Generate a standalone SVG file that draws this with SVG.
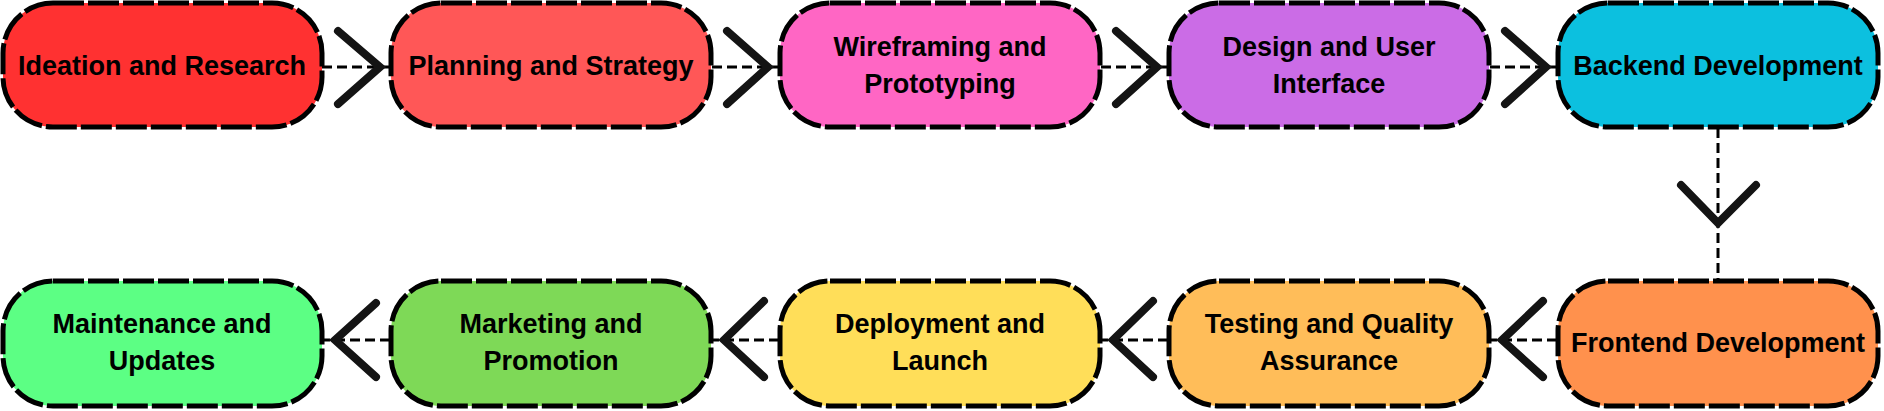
<svg xmlns="http://www.w3.org/2000/svg" width="1884" height="411" viewBox="0 0 1884 411">
<style>
.box{stroke:#000;stroke-width:5;stroke-dasharray:31 4}
.t{font-family:"Liberation Sans",Arial,sans-serif;font-weight:bold;font-size:27px;fill:#000;text-anchor:middle}
.ln{stroke:#000;stroke-width:3;stroke-dasharray:10 5;fill:none}
.ch{stroke:#141414;stroke-width:8;stroke-linecap:round;stroke-linejoin:miter;fill:none}
</style>
<rect width="1884" height="411" fill="#fff"/>
<g id="connectors">
<line class="ln" x1="322" y1="67" x2="390" y2="67"/>
<path class="ch" d="M338,31 L380,67 L338,104"/>
<line class="ln" x1="712" y1="67" x2="779" y2="67"/>
<path class="ch" d="M727,31 L768,67 L727,104"/>
<line class="ln" x1="1101" y1="67" x2="1168" y2="67"/>
<path class="ch" d="M1116,31 L1157,67 L1116,104"/>
<line class="ln" x1="1490" y1="67" x2="1557" y2="67"/>
<path class="ch" d="M1505,31 L1546,67 L1505,104"/>
<line class="ln" x1="1718" y1="128" x2="1718" y2="280"/>
<path class="ch" d="M1681,185 L1718,223 L1756,185"/>
<line class="ln" x1="1557" y1="340" x2="1490" y2="340"/>
<path class="ch" d="M1543,301 L1502,340 L1543,377"/>
<line class="ln" x1="1168" y1="340" x2="1101" y2="340"/>
<path class="ch" d="M1153,301 L1113,340 L1153,377"/>
<line class="ln" x1="779" y1="340" x2="712" y2="340"/>
<path class="ch" d="M764,301 L724,340 L764,377"/>
<line class="ln" x1="390" y1="340" x2="322" y2="340"/>
<path class="ch" d="M376,303 L335,340 L376,377"/>
</g>
<g id="n1"><rect class="box" x="3" y="3" width="319" height="124" rx="50" fill="#ff3131"/><text class="t" x="162" y="75">Ideation and Research</text></g>
<g id="n2"><rect class="box" x="391" y="3" width="320" height="124" rx="50" fill="#ff5757"/><text class="t" x="551" y="75">Planning and Strategy</text></g>
<g id="n3"><rect class="box" x="780" y="3" width="320" height="124" rx="50" fill="#ff66c4"/><text class="t" x="940" y="56">Wireframing and</text><text class="t" x="940" y="93">Prototyping</text></g>
<g id="n4"><rect class="box" x="1169" y="3" width="320" height="124" rx="50" fill="#cb6ce6"/><text class="t" x="1329" y="56">Design and User</text><text class="t" x="1329" y="93">Interface</text></g>
<g id="n5"><rect class="box" x="1558" y="3" width="320" height="124" rx="50" fill="#0cc0df"/><text class="t" x="1718" y="75">Backend Development</text></g>
<g id="n6"><rect class="box" x="1558" y="281" width="320" height="125" rx="50" fill="#ff914d"/><text class="t" x="1718" y="352">Frontend Development</text></g>
<g id="n7"><rect class="box" x="1169" y="281" width="320" height="125" rx="50" fill="#ffbd59"/><text class="t" x="1329" y="333">Testing and Quality</text><text class="t" x="1329" y="370">Assurance</text></g>
<g id="n8"><rect class="box" x="780" y="281" width="320" height="125" rx="50" fill="#ffde59"/><text class="t" x="940" y="333">Deployment and</text><text class="t" x="940" y="370">Launch</text></g>
<g id="n9"><rect class="box" x="391" y="281" width="320" height="125" rx="50" fill="#7ed957"/><text class="t" x="551" y="333">Marketing and</text><text class="t" x="551" y="370">Promotion</text></g>
<g id="n10"><rect class="box" x="3" y="281" width="319" height="125" rx="50" fill="#5cff84"/><text class="t" x="162" y="333">Maintenance and</text><text class="t" x="162" y="370">Updates</text></g>
</svg>
